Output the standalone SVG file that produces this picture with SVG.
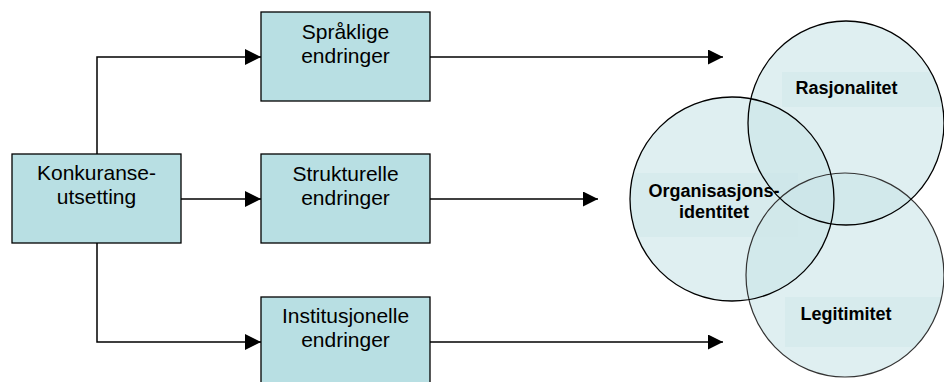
<svg xmlns="http://www.w3.org/2000/svg" width="944" height="382" viewBox="0 0 944 382">
<style>
.box{fill:#b8dfe3;stroke:#000;stroke-width:1.3}
.t{font-family:"Liberation Sans",Arial,sans-serif;font-size:21px;fill:#000;text-anchor:middle}
.b{font-family:"Liberation Sans",Arial,sans-serif;font-size:18px;font-weight:bold;fill:#000;text-anchor:middle}
.c{fill:#c9e5e8;fill-opacity:0.6;stroke:none}
.s{fill:none;stroke:#000;stroke-width:1.3}
.sg{fill:none;stroke:#333;stroke-width:1.2}
.p{fill:#cfe7ea;fill-opacity:0.55}
.ln{fill:none;stroke:#000;stroke-width:1.5}
</style>
<defs>
<marker id="ah" markerWidth="16" markerHeight="16" refX="16" refY="8" orient="auto" markerUnits="userSpaceOnUse">
<path d="M0,0 L16,8 L0,16 Z" fill="#000"/>
</marker>
<marker id="ah2" markerWidth="16" markerHeight="16" refX="15" refY="7.5" orient="auto" markerUnits="userSpaceOnUse">
<path d="M0,0 L15,7.5 L0,15 Z" fill="#000"/>
</marker>
<clipPath id="cr"><ellipse cx="846" cy="123" rx="98" ry="102"/></clipPath>
<clipPath id="co"><ellipse cx="732" cy="199" rx="102" ry="102"/></clipPath>
<clipPath id="cl"><ellipse cx="845" cy="275" rx="99" ry="102"/></clipPath>
</defs>
<g id="connectors">
<path class="ln" d="M97,154 V57 H261" marker-end="url(#ah)"/>
<path class="ln" d="M181,199 H261" marker-end="url(#ah)"/>
<path class="ln" d="M97,243 V342 H261" marker-end="url(#ah)"/>
<path class="ln" d="M430,57 H723" marker-end="url(#ah2)"/>
<path class="ln" d="M430,199 H598" marker-end="url(#ah2)"/>
<path class="ln" d="M430,342 H723" marker-end="url(#ah2)"/>
</g>
<g id="konkuranse">
<rect class="box" x="12" y="154" width="169" height="89"/>
<text class="t" x="96.5" y="180">Konkuranse-</text>
<text class="t" x="96.5" y="204">utsetting</text>
</g>
<g id="spraklige">
<rect class="box" x="261" y="12" width="169" height="89"/>
<text class="t" x="345.5" y="39">Språklige</text>
<text class="t" x="345.5" y="63">endringer</text>
</g>
<g id="strukturelle">
<rect class="box" x="261" y="154" width="169" height="89"/>
<text class="t" x="345.5" y="181">Strukturelle</text>
<text class="t" x="345.5" y="205">endringer</text>
</g>
<g id="institusjonelle">
<rect class="box" x="261" y="297" width="169" height="90"/>
<text class="t" x="345.5" y="323">Institusjonelle</text>
<text class="t" x="345.5" y="347">endringer</text>
</g>
<g id="legitimitet">
<ellipse class="c" cx="845" cy="275" rx="99" ry="102"/>
<rect class="p" x="785" y="297" width="160" height="50" clip-path="url(#cl)"/>
</g>
<g id="organisasjonsidentitet">
<ellipse class="c" cx="732" cy="199" rx="102" ry="102"/>
<rect class="p" x="630" y="173" width="168" height="64" clip-path="url(#co)"/>
</g>
<g id="rasjonalitet">
<ellipse class="c" cx="846" cy="123" rx="98" ry="102"/>
<rect class="p" x="782" y="72" width="162" height="35" clip-path="url(#cr)"/>
</g>
<g id="outlines">
<ellipse class="sg" cx="845" cy="275" rx="99" ry="102"/>
<ellipse class="s" cx="732" cy="199" rx="102" ry="102"/>
<ellipse class="s" cx="846" cy="123" rx="98" ry="102"/>
</g>
<g id="labels">
<text class="b" x="846.5" y="94">Rasjonalitet</text>
<text class="b" x="714" y="197">Organisasjons-</text>
<text class="b" x="714" y="218">identitet</text>
<text class="b" x="846" y="320">Legitimitet</text>
</g>
</svg>
